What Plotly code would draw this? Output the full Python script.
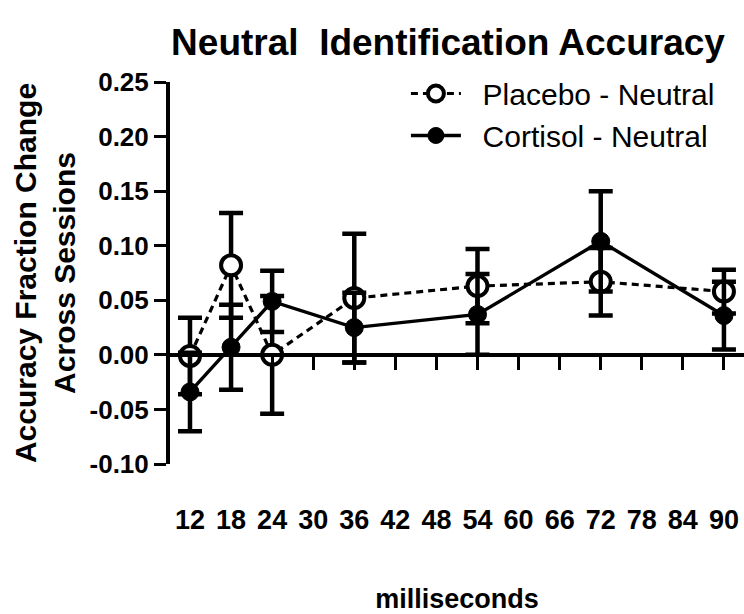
import plotly.graph_objects as go

# ---- data ----
ms = [12, 18, 24, 36, 54, 72, 90]
placebo = [-0.001, 0.082, 0.000, 0.052, 0.063, 0.067, 0.058]
placebo_err = [0.035, 0.048, 0.054, 0.059, 0.034, 0.031, 0.020]
cortisol = [-0.034, 0.007, 0.049, 0.025, 0.037, 0.104, 0.036]
cortisol_err = [0.036, 0.039, 0.028, 0.032, 0.037, 0.046, 0.031]
x_ticks = list(range(12, 91, 6))
y_ticks = [-0.10, -0.05, 0.00, 0.05, 0.10, 0.15, 0.20, 0.25]
y_ticktext = [f"{v:.2f}" for v in y_ticks]
series_names = ["Placebo - Neutral", "Cortisol - Neutral"]

FONT = "Liberation Sans, Arial, sans-serif"
Y_MIN, Y_MAX = -0.10, 0.25
X_MIN, X_MAX = 9.08, 92.93
PAD = "\u00a0\u00a0"

fig = go.Figure()
fig.add_trace(go.Scatter(
    x=ms, y=placebo, name=PAD + series_names[0], mode="lines+markers",
    line=dict(color="black", width=3.2, dash="7px,5px"),
    marker=dict(symbol="circle", size=20, color="white",
                line=dict(color="black", width=4)),
    error_y=dict(type="data", array=placebo_err, visible=True,
                 color="black", thickness=4.5, width=12),
))
fig.add_trace(go.Scatter(
    x=ms, y=cortisol, name=PAD + series_names[1], mode="lines+markers",
    line=dict(color="black", width=3.4),
    marker=dict(symbol="circle", size=18, color="black",
                line=dict(color="black", width=1)),
    error_y=dict(type="data", array=cortisol_err, visible=True,
                 color="black", thickness=4.5, width=12),
))

fig.update_layout(
    width=744, height=614,
    margin=dict(l=170, r=0, t=82, b=150, autoexpand=False),
    paper_bgcolor="white", plot_bgcolor="white",
    font=dict(family=FONT, color="black"),
    title=dict(text="Neutral\u00a0 Identification Accuracy",
               font=dict(size=37, weight="bold", family=FONT),
               xref="container", x=448 / 744, xanchor="center",
               yref="container", y=1 - 42 / 614, yanchor="middle"),
    showlegend=True,
    legend=dict(x=0.411, y=1.038, xanchor="left", yanchor="top",
                font=dict(size=30, family=FONT), itemwidth=50,
                bgcolor="rgba(0,0,0,0)", tracegroupgap=0),
    xaxis=dict(range=[X_MIN, X_MAX], anchor="free",
               position=(0 - Y_MIN) / (Y_MAX - Y_MIN),
               showgrid=False, zeroline=False,
               showline=True, linecolor="black", linewidth=4,
               tickvals=x_ticks, ticktext=[str(t) for t in x_ticks],
               ticks="outside", ticklen=13, tickwidth=3, tickcolor="black",
               ticklabelstandoff=127,
               tickfont=dict(size=27, weight="bold", family=FONT),
               title=dict(text="milliseconds", standoff=58,
                          font=dict(size=27, weight="bold", family=FONT))),
    yaxis=dict(range=[Y_MIN, Y_MAX], showgrid=False, zeroline=False,
               showline=True, linecolor="black", linewidth=4,
               tickvals=y_ticks, ticktext=y_ticktext,
               ticks="outside", ticklen=12, tickwidth=3, tickcolor="black",
               tickfont=dict(size=26, weight="bold", family=FONT),
               title=dict(text="Accuracy Fraction Change<br>Across Sessions",
                          standoff=6,
                          font=dict(size=30, weight="bold", family=FONT))),
)

fig.write_html("out.html")
